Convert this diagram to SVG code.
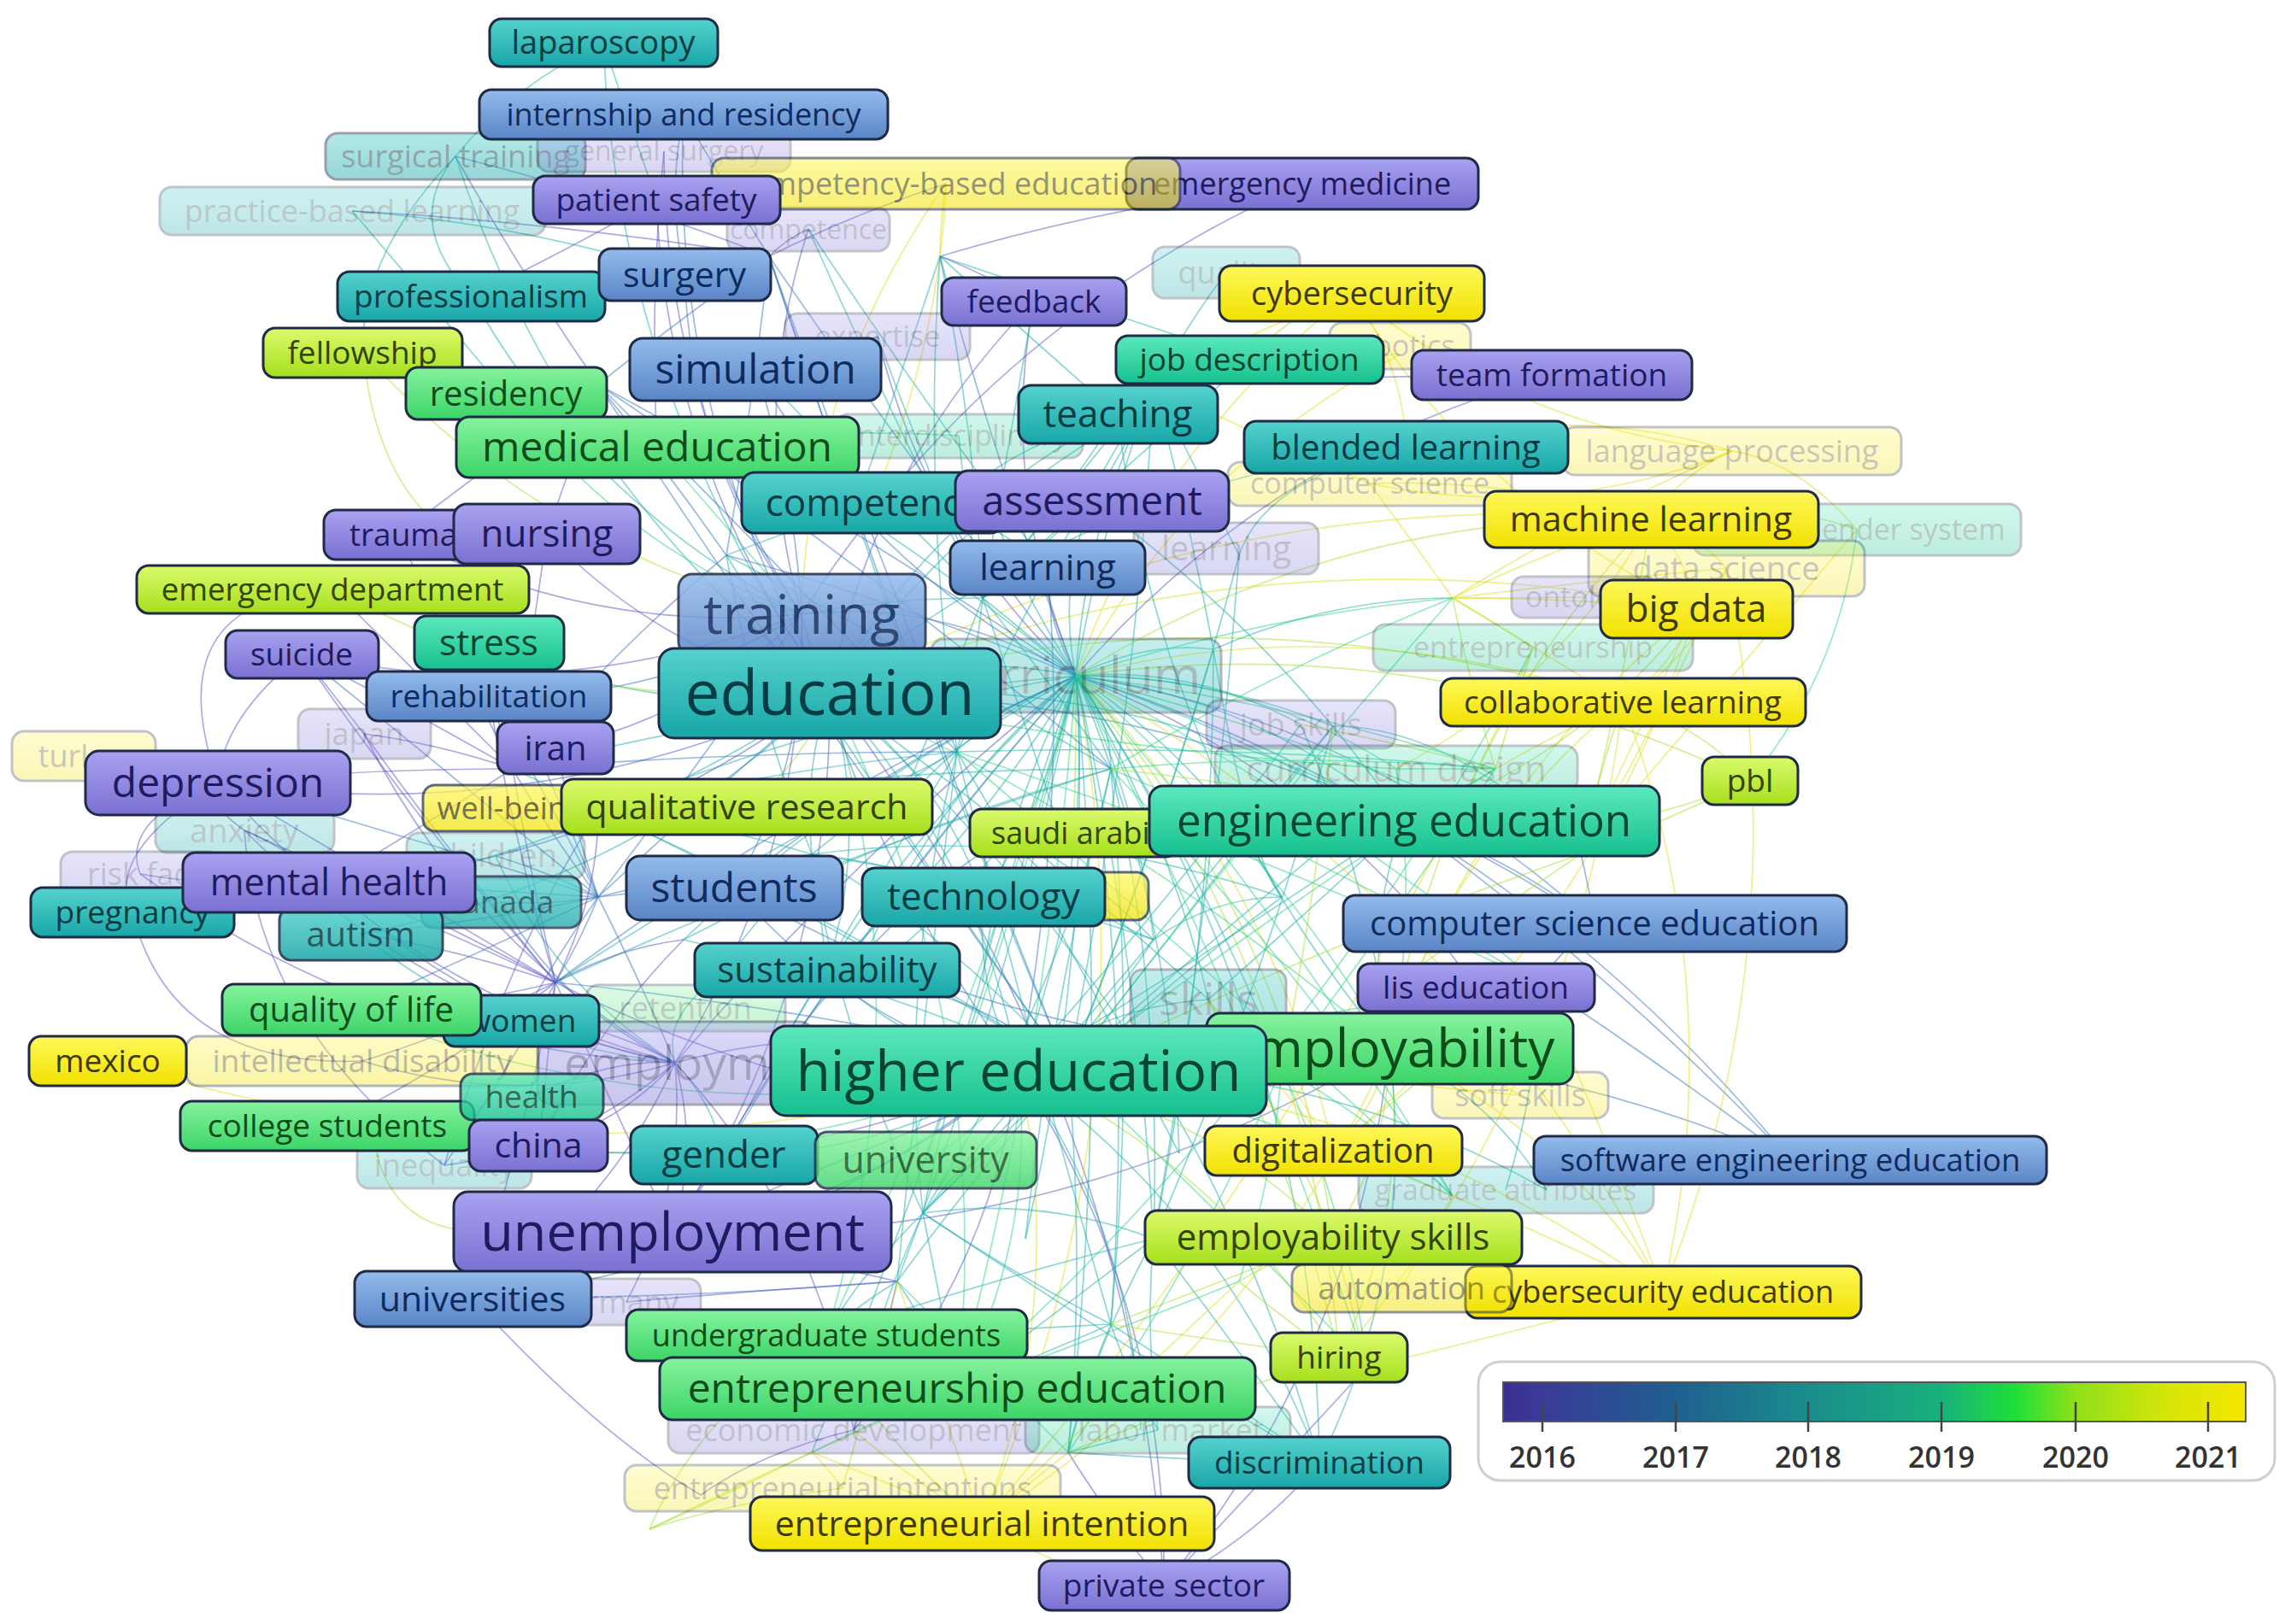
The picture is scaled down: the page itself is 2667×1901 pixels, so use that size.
<svg xmlns="http://www.w3.org/2000/svg" width="2667" height="1901" viewBox="0 0 2667 1901">
<defs>
<linearGradient id="gP" x1="0" y1="0" x2="0" y2="1"><stop offset="0" stop-color="#a9a2f0"/><stop offset="1" stop-color="#7a70d2"/></linearGradient>
<linearGradient id="gB" x1="0" y1="0" x2="0" y2="1"><stop offset="0" stop-color="#93bbec"/><stop offset="1" stop-color="#5a85c6"/></linearGradient>
<linearGradient id="gT" x1="0" y1="0" x2="0" y2="1"><stop offset="0" stop-color="#55d2ce"/><stop offset="1" stop-color="#18a6a7"/></linearGradient>
<linearGradient id="gTG" x1="0" y1="0" x2="0" y2="1"><stop offset="0" stop-color="#5ce8be"/><stop offset="1" stop-color="#16c08e"/></linearGradient>
<linearGradient id="gG" x1="0" y1="0" x2="0" y2="1"><stop offset="0" stop-color="#86f39e"/><stop offset="1" stop-color="#3cd468"/></linearGradient>
<linearGradient id="gYG" x1="0" y1="0" x2="0" y2="1"><stop offset="0" stop-color="#dcfa6c"/><stop offset="1" stop-color="#a5df1c"/></linearGradient>
<linearGradient id="gY" x1="0" y1="0" x2="0" y2="1"><stop offset="0" stop-color="#fff85a"/><stop offset="1" stop-color="#f1e100"/></linearGradient>
<linearGradient id="gLeg" x1="0" y1="0" x2="1" y2="0">
<stop offset="0" stop-color="#3b2f93"/><stop offset="0.05" stop-color="#3a3a98"/><stop offset="0.23" stop-color="#1f5f90"/><stop offset="0.41" stop-color="#1a8d8c"/><stop offset="0.59" stop-color="#18b07c"/><stop offset="0.69" stop-color="#1de038"/><stop offset="0.77" stop-color="#8fe01a"/><stop offset="0.9" stop-color="#d8e608"/><stop offset="1" stop-color="#f5e600"/>
</linearGradient>
</defs>
<style>
text{font-family:"Open Sans","Noto Sans","DejaVu Sans",sans-serif;text-anchor:middle}
#faded rect,#nodes rect{stroke:#1e2a46;stroke-width:3}
.P rect{fill:url(#gP)} .P text{fill:#1e1b5e}
.B rect{fill:url(#gB)} .B text{fill:#0f2a5c}
.T rect{fill:url(#gT)} .T text{fill:#073c44}
.TG rect{fill:url(#gTG)} .TG text{fill:#06452f}
.G rect{fill:url(#gG)} .G text{fill:#0d4d1a}
.YG rect{fill:url(#gYG)} .YG text{fill:#334400}
.Y rect{fill:url(#gY)} .Y text{fill:#3d3a00}
#faded g{opacity:.28}
#edges path{fill:none;stroke-width:1.7;stroke-opacity:.5}
.k1{stroke:#5c58c6}.k2{stroke:#3a78c0}.k3{stroke:#1fb0aa}.k4{stroke:#2ed388}.k5{stroke:#a6e22e}.k6{stroke:#e2de1c}
.lg{font-size:34px;font-weight:600;fill:#333}
</style>
<rect width="2667" height="1901" fill="#fff"/>
<g id="edges">
<path class="k3" d="M971 811Q724 470 706 50"/>
<path class="k2" d="M971 811Q783 498 800 134"/>
<path class="k3" d="M971 811Q658 563 533 183"/>
<path class="k1" d="M971 811Q782 552 768 234"/>
<path class="k1" d="M971 811Q1021 546 1210 353"/>
<path class="k3" d="M971 811Q1158 542 1462 421"/>
<path class="k3" d="M971 811Q1090 597 1308 485"/>
<path class="k3" d="M971 811Q1265 566 1646 523"/>
<path class="k5" d="M971 811Q1437 677 1899 822"/>
<path class="k3" d="M971 811Q1330 785 1643 961"/>
<path class="k2" d="M971 811Q1459 812 1866 1081"/>
<path class="k3" d="M971 811Q1147 999 1192 1253"/>
<path class="k1" d="M971 811Q974 1154 787 1442"/>
<path class="k1" d="M971 811Q629 970 255 916"/>
<path class="k1" d="M971 811Q711 1010 385 1033"/>
<path class="k3" d="M971 811Q762 841 572 752"/>
<path class="k1" d="M971 811Q777 768 640 625"/>
<path class="k5" d="M971 811Q662 837 390 690"/>
<path class="k5" d="M971 811Q942 892 874 944"/>
<path class="k3" d="M971 811Q1018 973 968 1135"/>
<path class="k3" d="M971 811Q1097 903 1151 1050"/>
<path class="k4" d="M971 811Q1167 1196 1120 1625"/>
<path class="k3" d="M971 811Q1392 1175 1544 1712"/>
<path class="k1" d="M971 811Q1323 1274 1362 1856"/>
<path class="k4" d="M971 811Q1082 1188 967 1563"/>
<path class="k3" d="M971 811Q738 1034 422 1093"/>
<path class="k3" d="M971 811Q602 1061 155 1068"/>
<path class="k6" d="M971 811Q1421 565 1932 608"/>
<path class="k6" d="M971 811Q1463 610 1985 713"/>
<path class="k6" d="M1259 791Q1353 519 1582 343"/>
<path class="k1" d="M1259 791Q1484 531 1816 439"/>
<path class="k5" d="M1259 791Q1568 598 1932 608"/>
<path class="k5" d="M1259 791Q1671 734 2048 914"/>
<path class="k1" d="M1259 791Q1548 903 1727 1156"/>
<path class="k2" d="M1259 791Q1762 949 2095 1358"/>
<path class="k6" d="M1259 791Q1492 1024 1560 1347"/>
<path class="k5" d="M1259 791Q1508 1074 1560 1448"/>
<path class="k5" d="M1259 791Q1533 1144 1567 1589"/>
<path class="k6" d="M1259 791Q1710 1048 1946 1512"/>
<path class="k1" d="M1259 791Q1168 565 1210 353"/>
<path class="k2" d="M1259 791Q1017 667 884 432"/>
<path class="k3" d="M1259 791Q1237 685 1278 586"/>
<path class="k2" d="M1259 791Q1223 722 1226 664"/>
<path class="k3" d="M1259 791Q1399 780 1522 848"/>
<path class="k4" d="M1259 791Q1462 789 1634 900"/>
<path class="k6" d="M1259 791Q1584 710 1899 822"/>
<path class="k3" d="M1259 791Q1476 818 1643 961"/>
<path class="k2" d="M1259 791Q1606 845 1866 1081"/>
<path class="k3" d="M1259 791Q1539 1208 1544 1712"/>
<path class="k6" d="M1259 791Q1353 1304 1149 1783"/>
<path class="k3" d="M1259 791Q1276 529 1435 319"/>
<path class="k1" d="M1259 791Q1083 627 1027 394"/>
<path class="k6" d="M1259 791Q1392 546 1638 415"/>
<path class="k4" d="M1192 1253Q1405 1175 1626 1227"/>
<path class="k1" d="M1192 1253Q1018 1408 787 1442"/>
<path class="k2" d="M1192 1253Q912 1482 553 1520"/>
<path class="k4" d="M1192 1253Q1212 1450 1120 1625"/>
<path class="k6" d="M1192 1253Q1250 1524 1149 1783"/>
<path class="k5" d="M1192 1253Q1430 1365 1567 1589"/>
<path class="k3" d="M1192 1253Q1437 1429 1544 1712"/>
<path class="k4" d="M1192 1253Q1153 1321 1083 1358"/>
<path class="k3" d="M1192 1253Q1034 1354 847 1352"/>
<path class="k1" d="M1192 1253Q924 1381 630 1341"/>
<path class="k4" d="M1192 1253Q797 1406 383 1318"/>
<path class="k4" d="M1192 1253Q790 1334 411 1182"/>
<path class="k6" d="M1192 1253Q657 1407 126 1242"/>
<path class="k1" d="M1192 1253Q1158 1492 999 1674"/>
<path class="k2" d="M1192 1253Q1659 1170 2095 1358"/>
<path class="k6" d="M1192 1253Q1608 1269 1946 1512"/>
<path class="k3" d="M1192 1253Q1291 1178 1414 1170"/>
<path class="k5" d="M1192 1253Q1405 1295 1560 1448"/>
<path class="k3" d="M1192 1253Q1062 1228 968 1135"/>
<path class="k2" d="M1192 1253Q993 1196 859 1039"/>
<path class="k3" d="M1192 1253Q1141 1157 1151 1050"/>
<path class="k3" d="M1192 1253Q1326 1442 1335 1674"/>
<path class="k3" d="M1192 1253Q1522 1230 1810 1393"/>
<path class="k1" d="M1192 1253Q1367 1529 1362 1856"/>
<path class="k6" d="M1626 1227Q1611 1297 1560 1347"/>
<path class="k5" d="M1626 1227Q1626 1347 1560 1448"/>
<path class="k1" d="M1626 1227Q1238 1460 787 1442"/>
<path class="k5" d="M1626 1227Q1650 1417 1567 1589"/>
<path class="k6" d="M1626 1227Q1829 1321 1946 1512"/>
<path class="k6" d="M1626 1227Q1701 983 1899 822"/>
<path class="k6" d="M1626 1227Q1728 916 1985 713"/>
<path class="k5" d="M1626 1227Q1686 871 1932 608"/>
<path class="k1" d="M1626 1227Q1690 1180 1727 1156"/>
<path class="k6" d="M1626 1227Q1710 1240 1779 1282"/>
<path class="k3" d="M1626 1227Q1743 1282 1810 1393"/>
<path class="k6" d="M1626 1227Q1470 1577 1149 1783"/>
<path class="k3" d="M1626 1227Q1658 1481 1544 1712"/>
<path class="k1" d="M1626 1227Q1588 1581 1362 1856"/>
<path class="k3" d="M1626 1227Q1594 1091 1643 961"/>
<path class="k2" d="M1626 1227Q1214 1248 859 1039"/>
<path class="k3" d="M1626 1227Q1356 904 1308 485"/>
<path class="k2" d="M938 719Q809 541 801 321"/>
<path class="k3" d="M938 719Q689 591 552 347"/>
<path class="k4" d="M938 719Q726 641 592 460"/>
<path class="k5" d="M938 719Q635 643 425 413"/>
<path class="k1" d="M938 719Q688 743 466 626"/>
<path class="k1" d="M938 719Q652 830 353 766"/>
<path class="k2" d="M938 719Q769 822 572 815"/>
<path class="k1" d="M938 719Q817 840 650 875"/>
<path class="k1" d="M938 719Q1155 379 1524 215"/>
<path class="k6" d="M938 719Q946 442 1107 215"/>
<path class="k2" d="M938 719Q930 570 884 432"/>
<path class="k4" d="M938 719Q870 640 769 523"/>
<path class="k2" d="M938 719Q946 891 859 1039"/>
<path class="k1" d="M938 719Q943 1003 790 1244"/>
<path class="k1" d="M938 719Q776 472 777 177"/>
<path class="k1" d="M938 719Q874 492 946 268"/>
<path class="k1" d="M790 1244Q693 1192 610 1195"/>
<path class="k1" d="M790 1244Q712 1239 622 1284"/>
<path class="k1" d="M790 1244Q725 1316 630 1341"/>
<path class="k1" d="M790 1244Q607 1298 424 1242"/>
<path class="k1" d="M790 1244Q818 1343 787 1442"/>
<path class="k3" d="M790 1244Q780 1210 802 1180"/>
<path class="k3" d="M790 1244Q834 1290 847 1352"/>
<path class="k1" d="M790 1244Q803 1393 733 1524"/>
<path class="k1" d="M790 1244Q673 1345 520 1364"/>
<path class="k1" d="M790 1244Q959 1428 999 1674"/>
<path class="k1" d="M790 1244Q473 1160 255 916"/>
<path class="k1" d="M790 1244Q555 1199 385 1033"/>
<path class="k1" d="M790 1244Q497 1184 286 972"/>
<path class="k2" d="M790 1244Q660 1181 586 1056"/>
<path class="k3" d="M790 1244Q649 1155 580 1002"/>
<path class="k1" d="M790 1244Q444 1227 164 1023"/>
<path class="k1" d="M790 1244Q550 1106 426 859"/>
<path class="k3" d="M790 1244Q583 1223 422 1093"/>
<path class="k1" d="M790 1244Q712 1418 553 1520"/>
<path class="k1" d="M790 1244Q992 1188 1192 1253"/>
<path class="k6" d="M1932 608Q1974 652 1985 713"/>
<path class="k6" d="M1932 608Q1985 623 2020 665"/>
<path class="k6" d="M1932 608Q1968 554 2027 528"/>
<path class="k5" d="M1932 608Q2054 578 2173 620"/>
<path class="k6" d="M1985 713Q1958 780 1899 822"/>
<path class="k6" d="M1985 713Q1728 588 1582 343"/>
<path class="k6" d="M2027 528Q1821 611 1603 566"/>
<path class="k5" d="M1582 343Q1510 365 1462 421"/>
<path class="k6" d="M1582 343Q1641 423 1646 523"/>
<path class="k5" d="M2048 914Q1987 848 1899 822"/>
<path class="k5" d="M2048 914Q1852 998 1643 961"/>
<path class="k6" d="M2020 665Q2110 1099 1946 1512"/>
<path class="k6" d="M1985 713Q1867 1094 1560 1347"/>
<path class="k4" d="M2173 620Q2154 786 2048 914"/>
<path class="k6" d="M2027 528Q1840 470 1646 523"/>
<path class="k6" d="M2027 528Q1776 502 1582 343"/>
<path class="k6" d="M1899 822Q2026 1160 1946 1512"/>
<path class="k6" d="M2020 665Q1995 760 1899 822"/>
<path class="k6" d="M1932 608Q1827 799 1634 900"/>
<path class="k6" d="M1603 566Q1770 560 1932 608"/>
<path class="k5" d="M1985 713Q1851 888 1643 961"/>
<path class="k6" d="M2027 528Q2105 540 2173 620"/>
<path class="k6" d="M1899 822Q1848 1255 1567 1589"/>
<path class="k5" d="M440 1347Q460 1430 540 1440"/>
<path class="k5" d="M760 1790Q820 1650 967 1563"/>
<path class="k5" d="M760 1790Q900 1720 1120 1625"/>
<path class="k5" d="M760 1790Q850 1760 986 1742"/>
<path class="k1" d="M553 1520Q700 1680 820 1750"/>
<path class="k1" d="M820 1750Q890 1700 999 1674"/>
<path class="k6" d="M1149 1783Q1050 1720 999 1674"/>
<path class="k5" d="M1149 1783Q1020 1680 967 1563"/>
<path class="k1" d="M1362 1856Q1470 1800 1544 1712"/>
<path class="k6" d="M1362 1856Q1260 1850 1149 1783"/>
<path class="k5" d="M425 413Q440 560 520 620"/>
<path class="k3" d="M533 183Q470 260 552 347"/>
<path class="k3" d="M412 247Q600 260 801 321"/>
<path class="k3" d="M706 50Q600 100 533 183"/>
<path class="k3" d="M706 50Q740 150 768 234"/>
<path class="k2" d="M800 134Q780 230 801 321"/>
<path class="k3" d="M412 247Q500 350 592 460"/>
<path class="k3" d="M533 183Q420 300 425 413"/>
<path class="k1" d="M777 177Q760 350 769 523"/>
<path class="k1" d="M768 234Q650 300 552 347"/>
<path class="k2" d="M1027 394Q950 420 884 432"/>
<path class="k3" d="M946 268Q1080 470 1226 664"/>
<path class="k4" d="M1122 510Q950 500 769 523"/>
<path class="k6" d="M1107 215Q1100 400 1021 588"/>
<path class="k3" d="M971 811Q1110 760 1259 791"/>
<path class="k4" d="M971 811Q1310 960 1626 1227"/>
<path class="k2" d="M938 719Q1100 700 1259 791"/>
<path class="k2" d="M938 719Q1010 1000 1192 1253"/>
<path class="k3" d="M1259 791Q1280 1020 1192 1253"/>
<path class="k4" d="M1259 791Q1480 980 1626 1227"/>
<path class="k3" d="M1259 791Q1370 980 1414 1170"/>
<path class="k3" d="M971 811Q1230 1000 1414 1170"/>
<path class="k1" d="M1259 791Q1000 1080 787 1442"/>
<path class="k2" d="M1259 791Q1040 890 859 1039"/>
<path class="k3" d="M1259 791Q1230 930 1151 1050"/>
<path class="k3" d="M1259 791Q1140 990 968 1135"/>
<path class="k4" d="M1259 791Q1230 1200 1120 1625"/>
<path class="k4" d="M1259 791Q1150 1170 967 1563"/>
<path class="k1" d="M1259 791Q1000 1000 790 1244"/>
<path class="k3" d="M1259 791Q1000 1080 847 1352"/>
<path class="k4" d="M1259 791Q1190 1080 1083 1358"/>
<path class="k5" d="M1259 791Q1260 880 1256 975"/>
<path class="k3" d="M1278 586Q1500 750 1643 961"/>
<path class="k2" d="M1226 664Q1250 950 1192 1253"/>
<path class="k5" d="M1414 1170Q1500 1300 1560 1448"/>
<path class="k3" d="M1414 1170Q1540 1060 1643 961"/>
<path class="k6" d="M1414 1170Q1480 1250 1560 1347"/>
<path class="k5" d="M1414 1170Q1520 1380 1567 1589"/>
<path class="k3" d="M1643 961Q1440 1100 1192 1253"/>
<path class="k2" d="M1643 961Q1760 1000 1866 1081"/>
<path class="k2" d="M1643 961Q1900 1150 2095 1358"/>
<path class="k3" d="M1522 848Q1600 1020 1626 1227"/>
<path class="k3" d="M1522 848Q1380 1040 1192 1253"/>
<path class="k4" d="M1634 900Q1660 1070 1626 1227"/>
<path class="k4" d="M1634 900Q1300 880 971 811"/>
<path class="k4" d="M1794 758Q1540 1250 1120 1625"/>
<path class="k6" d="M1794 758Q1560 1300 1149 1783"/>
<g class="k3">
<path d="M1259 791Q1300 840 1300 900"/><path d="M1259 791Q1340 750 1420 760"/><path d="M1259 791Q1420 900 1500 1050"/><path d="M1259 791Q1330 930 1350 1100"/>
<path d="M1259 791Q1410 790 1560 850"/><path d="M1259 791Q1130 850 1050 950"/><path d="M1259 791Q1080 940 1000 1150"/><path d="M1259 791Q1170 960 1150 1150"/>
<path d="M1259 791Q1370 1050 1380 1350"/><path d="M1259 791Q1280 1100 1200 1450"/><path d="M1259 791Q1330 1150 1300 1550"/><path d="M1259 791Q1190 1130 1050 1500"/>
<path d="M1259 791Q1040 990 900 1250"/><path d="M1259 791Q1000 910 800 1100"/><path d="M1259 791Q970 840 700 950"/><path d="M1259 791Q1110 670 1000 600"/>
<path d="M1259 791Q1180 670 1150 560"/><path d="M1259 791Q1300 1250 1250 1700"/><path d="M1259 791Q1140 1240 950 1700"/><path d="M1259 791Q930 820 600 900"/>
<path d="M1259 791Q1290 610 1350 450"/><path d="M1259 791Q1400 1000 1500 1250"/><path d="M1259 791Q1440 850 1600 950"/>
<path d="M1250 1250Q1080 1230 900 1250"/><path d="M1250 1250Q1020 1150 800 1100"/><path d="M1250 1250Q960 1060 700 950"/><path d="M1250 1250Q930 1050 600 900"/>
<path d="M1250 1250Q1130 1390 1050 1500"/><path d="M1250 1250Q1270 1480 1250 1700"/><path d="M1250 1250Q1370 950 1450 650"/><path d="M1250 1250Q1350 1000 1420 760"/>
<path d="M1250 1250Q1420 1030 1560 850"/><path d="M1250 1250Q1030 940 850 650"/><path d="M1250 1250Q1110 920 1000 600"/><path d="M1250 1250Q1330 840 1350 450"/>
<path d="M1250 1250Q1440 1080 1600 950"/><path d="M1300 900Q1000 900 700 950"/><path d="M1300 900Q980 1000 650 1150"/><path d="M1300 900Q1050 970 800 1100"/>
<path d="M1300 900Q1060 760 850 650"/><path d="M1300 900Q1330 1230 1300 1550"/><path d="M1300 900Q1230 1180 1200 1450"/><path d="M1120 880Q910 900 700 950"/>
<path d="M1120 880Q880 1000 650 1150"/><path d="M1120 880Q1080 580 1100 300"/><path d="M1120 880Q1230 650 1350 450"/><path d="M1120 880Q1250 1100 1380 1350"/>
<path d="M1120 880Q1200 1200 1300 1550"/><path d="M1120 880Q1080 1190 1050 1500"/><path d="M1120 880Q1000 1070 900 1250"/><path d="M1120 880Q1440 870 1750 900"/>
<path d="M1350 450Q1320 520 1278 586"/><path d="M1350 450Q1400 430 1462 421"/><path d="M1350 450Q1400 550 1450 650"/><path d="M1350 450Q1390 600 1420 760"/>
<path d="M1100 300Q1200 390 1308 485"/><path d="M1100 300Q1280 360 1462 421"/><path d="M1100 300Q1050 450 1000 600"/><path d="M1300 1550Q1210 1590 1120 1625"/>
<path d="M1300 1550Q1420 1630 1544 1712"/><path d="M1300 1550Q1320 1610 1355 1674"/><path d="M1300 1550Q1130 1560 967 1563"/><path d="M1300 1550Q1270 1620 1250 1700"/>
<path d="M1250 1700Q1400 1710 1544 1712"/><path d="M1250 1700Q1290 1690 1355 1674"/><path d="M1050 1500Q1000 1530 967 1563"/><path d="M1050 1500Q1090 1560 1120 1625"/>
<path d="M1850 1000Q1750 980 1643 961"/><path d="M1800 1150Q1800 1270 1762 1393"/><path d="M1500 1050Q1460 1000 1420 760"/><path d="M1500 1050Q1350 1000 1180 980"/>
<path d="M1350 1100Q1250 1000 1180 980"/><path d="M1350 1100Q1420 1050 1500 1050"/><path d="M1180 980Q1100 1080 1000 1150"/><path d="M1180 980Q1250 1060 1350 1100"/>
<path d="M1420 760Q1560 700 1700 700"/><path d="M1560 850Q1700 850 1850 1000"/><path d="M1450 650Q1480 560 1646 523"/><path d="M1000 600Q1100 560 1226 664"/>
<path d="M850 650Q980 600 1000 600"/><path d="M1150 560Q1200 520 1308 485"/>
<path d="M1080 1420Q1150 1100 1259 791"/><path d="M1080 1420Q1250 1150 1300 900"/><path d="M1080 1420Q1050 1150 1120 880"/><path d="M1080 1420Q980 1200 950 1000"/>
<path d="M1080 1420Q1100 1520 1120 1625"/><path d="M1080 1420Q1000 1500 967 1563"/><path d="M1080 1420Q1200 1500 1300 1550"/><path d="M1080 1420Q1020 1550 999 1674"/>
<path d="M1080 1420Q1220 1400 1350 1450"/><path d="M1080 1420Q1350 1600 1544 1712"/><path d="M1080 1420Q1250 1250 1350 1100"/><path d="M1080 1420Q1300 1200 1500 1050"/>
<path d="M1080 1420Q1350 1100 1560 850"/><path d="M1350 1450Q1330 1100 1259 791"/><path d="M1350 1450Q1360 1150 1300 900"/><path d="M1350 1450Q1420 1100 1420 760"/>
<path d="M1350 1450Q1480 1150 1560 850"/><path d="M1350 1450Q1420 1050 1450 650"/><path d="M1350 1450Q1280 1580 1250 1700"/><path d="M1350 1450Q1450 1580 1544 1712"/>
<path d="M1350 1450Q1340 1560 1355 1674"/><path d="M1350 1450Q1150 1500 967 1563"/><path d="M1350 1450Q1230 1540 1120 1625"/>
<path d="M950 1000Q940 900 971 811"/><path d="M950 1000Q1100 880 1259 791"/><path d="M950 1000Q900 1020 859 1039"/><path d="M950 1000Q820 960 700 950"/>
<path d="M950 1000Q880 820 850 650"/><path d="M950 1000Q960 1070 968 1135"/><path d="M950 1000Q1050 1010 1151 1050"/><path d="M950 1000Q1120 1100 1250 1250"/>
<path d="M950 1000Q1150 1030 1350 1100"/><path d="M950 1000Q1100 980 1250 1000"/><path d="M950 1000Q870 1100 802 1180"/>
<path d="M1150 700Q1200 740 1259 791"/><path d="M1150 700Q1040 700 938 719"/><path d="M1150 700Q1220 640 1278 586"/><path d="M1150 700Q1190 680 1226 664"/>
<path d="M1150 700Q1240 590 1308 485"/><path d="M1150 700Q1300 560 1462 421"/><path d="M1150 700Q1180 520 1210 353"/><path d="M1150 700Q1080 540 1027 394"/>
<path d="M1150 700Q1040 480 946 268"/><path d="M1150 700Q1130 600 1122 510"/><path d="M1150 700Q1010 560 884 432"/><path d="M1150 700Q1140 500 1100 300"/>
<path d="M1150 700Q1250 570 1350 450"/><path d="M1150 700Q1230 800 1300 900"/><path d="M1150 700Q1140 790 1120 880"/><path d="M1150 700Q1200 850 1250 1000"/>
<path d="M1150 700Q1100 830 1050 950"/>
</g>
<g class="k2">
<path d="M1259 791Q1040 700 850 650"/><path d="M1259 791Q1050 520 900 300"/><path d="M1259 791Q1160 530 1100 300"/><path d="M1259 791Q960 590 700 450"/>
<path d="M1259 791Q930 940 650 1150"/><path d="M1250 1250Q950 1180 650 1150"/><path d="M1250 1250Q1050 760 900 300"/><path d="M1250 1250Q950 830 700 450"/>
<path d="M1300 900Q1000 650 700 450"/><path d="M1120 880Q900 650 700 450"/><path d="M1120 880Q1000 580 900 300"/><path d="M1120 880Q860 880 600 900"/>
<path d="M900 300Q850 220 800 134"/><path d="M900 300Q800 370 700 450"/><path d="M900 300Q880 480 850 650"/><path d="M900 300Q950 450 1000 600"/>
<path d="M700 450Q780 550 850 650"/><path d="M650 1150Q610 1340 553 1520"/><path d="M600 900Q720 760 850 650"/><path d="M1050 1500Q800 1520 553 1520"/>
<path d="M1800 1150Q1950 1250 2095 1358"/><path d="M1800 1150Q1830 1110 1866 1081"/><path d="M1850 1000Q1860 1040 1866 1081"/><path d="M1250 1250Q1130 1150 1000 1150"/>
<path d="M1180 980Q1050 1050 900 1250"/>
<path d="M700 1050Q780 1040 859 1039"/><path d="M700 1050Q540 1040 385 1033"/><path d="M700 1050Q560 1080 422 1093"/><path d="M700 1050Q640 1020 580 1002"/>
<path d="M700 1050Q640 1060 586 1056"/><path d="M700 1050Q670 960 650 875"/><path d="M700 1050Q640 930 572 815"/><path d="M700 1050Q840 920 971 811"/>
<path d="M700 1050Q830 880 938 719"/><path d="M700 1050Q680 1100 650 1150"/><path d="M700 1050Q550 1120 411 1182"/><path d="M700 1050Q650 1120 610 1195"/>
<path d="M700 1050Q750 1150 790 1244"/><path d="M700 1050Q820 1020 950 1000"/><path d="M700 1050Q640 970 600 900"/><path d="M700 1050Q640 900 572 752"/>
<path d="M700 1050Q520 900 353 766"/><path d="M700 1050Q480 980 255 916"/>
</g>
<g class="k1">
<path d="M650 1150Q620 1020 600 900"/><path d="M650 1150Q700 1050 700 950"/><path d="M650 1150Q770 1210 900 1250"/><path d="M650 1150Q720 1110 800 1100"/>
<path d="M650 1150Q430 1020 255 916"/><path d="M650 1150Q500 1080 385 1033"/><path d="M650 1150Q530 1110 422 1093"/><path d="M650 1150Q530 1180 411 1182"/>
<path d="M650 1150Q530 1210 424 1242"/><path d="M650 1150Q510 1260 383 1318"/><path d="M650 1150Q590 1260 520 1364"/><path d="M650 1150Q640 1250 630 1341"/>
<path d="M650 1150Q720 1300 787 1442"/><path d="M650 1150Q520 990 426 859"/><path d="M650 1150Q480 950 353 766"/><path d="M650 1150Q600 980 572 815"/>
<path d="M650 1150Q460 1050 286 972"/><path d="M600 900Q420 900 255 916"/><path d="M600 900Q460 820 353 766"/><path d="M600 900Q510 870 426 859"/>
<path d="M600 900Q590 860 572 815"/><path d="M600 900Q620 890 650 875"/><path d="M600 900Q490 970 385 1033"/><path d="M600 900Q530 760 466 626"/>
<path d="M600 900Q620 760 640 625"/><path d="M600 900Q490 790 390 690"/><path d="M900 300Q720 230 533 183"/><path d="M900 300Q650 260 412 247"/>
<path d="M900 300Q720 320 552 347"/><path d="M900 300Q1000 250 1107 215"/><path d="M900 300Q920 280 946 268"/><path d="M700 450Q580 540 466 626"/>
<path d="M700 450Q670 540 640 625"/><path d="M700 450Q610 320 533 183"/><path d="M1100 300Q1300 240 1524 215"/><path d="M1100 300Q1150 320 1210 353"/>
<path d="M1350 450Q1580 440 1816 439"/><path d="M1800 1150Q1760 1150 1727 1156"/><path d="M1050 1500Q920 1470 787 1442"/><path d="M1050 1500Q890 1510 733 1524"/>
<path d="M1050 1500Q1030 1590 999 1674"/><path d="M1600 1600Q1480 1730 1362 1856"/><path d="M1250 1700Q1300 1780 1362 1856"/><path d="M900 1250Q850 1350 787 1442"/>
<path d="M800 1100Q700 1200 630 1341"/><path d="M1250 1250Q1000 1350 787 1442"/><path d="M700 950Q600 1100 520 1364"/>
<path d="M255 916Q120 1000 155 1068"/><path d="M255 916Q140 960 164 1023"/><path d="M385 1033Q270 1070 155 1068"/><path d="M385 1033Q330 990 286 972"/>
<path d="M286 972Q240 940 255 916"/><path d="M353 766Q260 840 255 916"/><path d="M426 859Q380 800 353 766"/><path d="M164 1023Q260 1040 385 1033"/>
<path d="M255 916Q180 700 390 690"/><path d="M155 1068Q200 1250 424 1242"/><path d="M286 972Q300 1200 520 1364"/>
</g>
<g class="k4">
<path d="M1259 791Q1480 720 1700 700"/><path d="M1259 791Q1500 820 1750 900"/><path d="M1259 791Q1550 940 1800 1150"/><path d="M1259 791Q1500 1060 1700 1400"/>
<path d="M1259 791Q1460 1180 1600 1600"/><path d="M1259 791Q1560 870 1850 1000"/><path d="M1250 1250Q1450 1440 1600 1600"/><path d="M1250 1250Q1480 1300 1700 1400"/>
<path d="M1250 1250Q1540 1180 1800 1150"/><path d="M1250 1250Q1500 1060 1750 900"/><path d="M1250 1250Q1480 950 1700 700"/><path d="M1300 900Q1500 780 1700 700"/>
<path d="M1300 900Q1520 880 1750 900"/><path d="M1300 900Q1560 1010 1800 1150"/><path d="M1300 900Q1520 1130 1700 1400"/><path d="M1120 880Q1410 1130 1700 1400"/>
<path d="M1120 880Q1460 990 1800 1150"/><path d="M1500 1250Q1640 1060 1750 900"/><path d="M1500 1250Q1620 1320 1700 1400"/><path d="M1500 1250Q1580 1430 1600 1600"/>
<path d="M1500 1250Q1400 1480 1250 1700"/><path d="M1500 1250Q1490 1380 1450 1500"/><path d="M1750 900Q1690 900 1634 900"/><path d="M1750 900Q1700 930 1643 961"/>
<path d="M1050 1500Q1150 1600 1250 1700"/><path d="M950 1700Q1030 1660 1120 1625"/><path d="M1450 1500Q1300 1560 1120 1625"/>
</g>
<g class="k5">
<path d="M1500 1250Q1700 1100 1850 1000"/><path d="M1500 1250Q1660 1180 1800 1150"/><path d="M1500 1250Q1540 1050 1560 850"/><path d="M1300 900Q1580 930 1850 1000"/>
<path d="M1250 1250Q1560 1100 1850 1000"/><path d="M1850 1000Q1950 960 2048 914"/><path d="M1850 1000Q1870 910 1899 822"/><path d="M1850 1000Q1900 800 1932 608"/>
<path d="M1700 700Q1720 800 1750 900"/><path d="M1700 700Q1750 730 1794 758"/><path d="M1750 900Q1770 830 1794 758"/><path d="M1750 900Q1640 870 1522 848"/>
<path d="M1800 1150Q1680 1250 1560 1347"/><path d="M1600 1600Q1580 1520 1560 1448"/><path d="M1600 1600Q1590 1590 1567 1589"/><path d="M1450 1500Q1500 1470 1560 1448"/>
<path d="M1450 1500Q1510 1550 1567 1589"/><path d="M1300 1550Q1430 1570 1567 1589"/><path d="M1300 1550Q1430 1500 1560 1448"/><path d="M950 1700Q850 1750 760 1790"/>
<path d="M1250 1700Q1400 1640 1567 1589"/><path d="M1050 1500Q1020 1620 986 1742"/>
</g>
<g class="k6">
<path d="M1700 700Q1820 640 1932 608"/><path d="M1700 700Q1840 700 1985 713"/><path d="M1700 700Q1860 600 2027 528"/><path d="M1700 700Q1650 630 1603 566"/>
<path d="M1700 700Q1800 760 1899 822"/><path d="M1700 700Q1860 680 2020 665"/><path d="M1700 700Q1780 700 1854 699"/><path d="M1850 1000Q1920 850 1985 713"/>
<path d="M1850 1000Q1950 830 2020 665"/><path d="M1850 1000Q2020 800 2173 620"/><path d="M1750 900Q1820 860 1899 822"/><path d="M1800 1150Q1880 1330 1946 1512"/>
<path d="M1700 1400Q1820 1450 1946 1512"/><path d="M1700 1400Q1630 1370 1560 1347"/><path d="M1700 1400Q1670 1450 1640 1508"/><path d="M1600 1600Q1770 1560 1946 1512"/>
<path d="M950 1700Q1050 1740 1149 1783"/><path d="M950 1700Q970 1720 986 1742"/><path d="M1250 1700Q1200 1740 1149 1783"/><path d="M1050 1500Q1100 1640 1149 1783"/>
<path d="M1450 1500Q1300 1640 1149 1783"/><path d="M1350 450Q1460 390 1582 343"/><path d="M1350 450Q1500 420 1638 415"/><path d="M1350 450Q1470 510 1603 566"/>
<path d="M1100 300Q1100 260 1107 215"/><path d="M1500 1250Q1640 1270 1779 1282"/><path d="M1500 1250Q1530 1300 1560 1347"/>
</g>
</g>
<g id="faded">
<g id="n-surgical-training" class="T" style="opacity:.45"><rect x="381" y="156" width="304" height="54" rx="14"/><text x="533" y="196" font-size="36">surgical training</text></g>
<g id="n-general-surgery" class="P"><rect x="629" y="153" width="296" height="48" rx="14"/><text x="777" y="188" font-size="32">general surgery</text></g>
<g id="n-practice-based-learning" class="T"><rect x="187" y="219" width="451" height="56" rx="14"/><text x="412" y="260" font-size="36">practice-based learning</text></g>
<g id="n-competence" class="P"><rect x="851" y="243" width="190" height="51" rx="14"/><text x="946" y="280" font-size="32">competence</text></g>
<g id="n-quality" class="T"><rect x="1349" y="289" width="172" height="60" rx="14"/><text x="1435" y="332" font-size="36">quality</text></g>
<g id="n-expertise" class="P"><rect x="919" y="367" width="216" height="54" rx="14"/><text x="1027" y="406" font-size="34">expertise</text></g>
<g id="n-robotics" class="Y"><rect x="1556" y="378" width="165" height="54" rx="14"/><text x="1638" y="417" font-size="34">robotics</text></g>
<g id="n-interdisciplinary" class="TG"><rect x="978" y="485" width="289" height="51" rx="14"/><text x="1122" y="522" font-size="34">interdisciplinary</text></g>
<g id="n-language-processing" class="Y"><rect x="1829" y="500" width="396" height="56" rx="14"/><text x="2027" y="541" font-size="36">language processing</text></g>
<g id="n-computer-science" class="Y"><rect x="1437" y="541" width="332" height="51" rx="14"/><text x="1603" y="578" font-size="34">computer science</text></g>
<g id="n-recommender-system" class="TG"><rect x="1982" y="590" width="383" height="60" rx="14"/><text x="2173" y="632" font-size="34">recommender system</text></g>
<g id="n-e-learning" class="P"><rect x="1327" y="612" width="216" height="60" rx="14"/><text x="1435" y="656" font-size="40">learning</text></g>
<g id="n-data-science" class="Y"><rect x="1859" y="633" width="323" height="65" rx="14"/><text x="2020" y="679" font-size="38">data science</text></g>
<g id="n-ontology" class="P"><rect x="1769" y="675" width="170" height="48" rx="14"/><text x="1854" y="711" font-size="34">ontology</text></g>
<g id="n-curriculum" class="T" style="opacity:.35"><rect x="1089" y="748" width="340" height="86" rx="16"/><text x="1254" y="812" font-size="60">curriculum</text></g>
<g id="n-entrepreneurship" class="TG"><rect x="1607" y="731" width="374" height="54" rx="14"/><text x="1794" y="770" font-size="34">entrepreneurship</text></g>
<g id="n-job-skills" class="P"><rect x="1412" y="820" width="221" height="56" rx="14"/><text x="1522" y="861" font-size="36">job skills</text></g>
<g id="n-japan" class="P"><rect x="349" y="830" width="155" height="58" rx="14"/><text x="426" y="872" font-size="36">japan</text></g>
<g id="n-turkey" class="Y"><rect x="14" y="856" width="168" height="58" rx="14"/><text x="98" y="898" font-size="36">turkey</text></g>
<g id="n-curriculum-design" class="TG"><rect x="1422" y="873" width="424" height="54" rx="14"/><text x="1634" y="915" font-size="42">curriculum design</text></g>
<g id="n-anxiety" class="T"><rect x="182" y="947" width="209" height="51" rx="14"/><text x="286" y="986" font-size="38">anxiety</text></g>
<g id="n-children" class="T"><rect x="476" y="975" width="208" height="54" rx="14"/><text x="580" y="1015" font-size="38">children</text></g>
<g id="n-risk-factors" class="P"><rect x="71" y="997" width="187" height="53" rx="14"/><text x="102" y="1036" font-size="36" style="text-anchor:start">risk factors</text></g>
<g id="n-retention" class="G"><rect x="686" y="1153" width="233" height="54" rx="14"/><text x="802" y="1193" font-size="36">retention</text></g>
<g id="n-skills" class="T" style="opacity:.35"><rect x="1323" y="1135" width="182" height="70" rx="14"/><text x="1414" y="1188" font-size="52">skills</text></g>
<g id="n-employment" class="P" style="opacity:.4"><rect x="629" y="1196" width="323" height="97" rx="16"/><text x="660" y="1264" font-size="55" style="text-anchor:start">employment</text></g>
<g id="n-intellectual-disability" class="Y" style="opacity:.35"><rect x="218" y="1213" width="412" height="58" rx="14"/><text x="424" y="1255" font-size="37">intellectual disability</text></g>
<g id="n-soft-skills" class="Y"><rect x="1676" y="1255" width="206" height="54" rx="14"/><text x="1779" y="1295" font-size="36">soft skills</text></g>
<g id="n-inequality" class="T"><rect x="418" y="1337" width="204" height="54" rx="14"/><text x="520" y="1377" font-size="36">inequality</text></g>
<g id="n-graduate-attributes" class="T"><rect x="1590" y="1366" width="345" height="54" rx="14"/><text x="1762" y="1405" font-size="34">graduate attributes</text></g>
<g id="n-germany" class="P"><rect x="620" y="1497" width="200" height="54" rx="14"/><text x="646" y="1537" font-size="36" style="text-anchor:start">germany</text></g>
<g id="n-economic-development" class="P"><rect x="782" y="1647" width="434" height="54" rx="14"/><text x="999" y="1687" font-size="36">economic development</text></g>
<g id="n-labor-market" class="TG"><rect x="1200" y="1647" width="310" height="54" rx="14"/><text x="1370" y="1687" font-size="36">labor market</text></g>
<g id="n-entrepreneurial-intentions" class="Y"><rect x="731" y="1715" width="510" height="54" rx="14"/><text x="986" y="1755" font-size="36">entrepreneurial intentions</text></g>
</g>
<g id="nodes">
<g id="n-laparoscopy" class="T"><rect x="573" y="22" width="267" height="56" rx="14"/><text x="706" y="63" font-size="38">laparoscopy</text></g>
<g id="n-internship-and-residency" class="B"><rect x="561" y="105" width="478" height="58" rx="14"/><text x="800" y="147" font-size="36">internship and residency</text></g>
<g id="n-emergency-medicine" class="P"><rect x="1318" y="185" width="412" height="60" rx="14"/><text x="1524" y="228" font-size="36">emergency medicine</text></g>
<g id="n-competency-based-education" class="Y" style="opacity:.55"><rect x="833" y="185" width="548" height="60" rx="14"/><text x="1107" y="228" font-size="36">competency-based education</text></g>
<g id="n-patient-safety" class="P"><rect x="624" y="206" width="289" height="56" rx="14"/><text x="768" y="247" font-size="37">patient safety</text></g>
<g id="n-professionalism" class="T"><rect x="395" y="318" width="313" height="58" rx="14"/><text x="551" y="360" font-size="37">professionalism</text></g>
<g id="n-surgery" class="B"><rect x="701" y="291" width="201" height="61" rx="14"/><text x="801" y="336" font-size="41">surgery</text></g>
<g id="n-feedback" class="P"><rect x="1102" y="325" width="216" height="56" rx="14"/><text x="1210" y="366" font-size="37">feedback</text></g>
<g id="n-cybersecurity" class="Y"><rect x="1427" y="311" width="310" height="65" rx="14"/><text x="1582" y="357" font-size="38">cybersecurity</text></g>
<g id="n-fellowship" class="YG"><rect x="308" y="384" width="233" height="58" rx="14"/><text x="424" y="426" font-size="37">fellowship</text></g>
<g id="n-simulation" class="B"><rect x="737" y="396" width="294" height="73" rx="15"/><text x="884" y="449" font-size="48">simulation</text></g>
<g id="n-job-description" class="TG"><rect x="1306" y="393" width="313" height="56" rx="14"/><text x="1462" y="434" font-size="37">job description</text></g>
<g id="n-team-formation" class="P"><rect x="1652" y="410" width="328" height="58" rx="14"/><text x="1816" y="452" font-size="37">team formation</text></g>
<g id="n-residency" class="G"><rect x="475" y="430" width="235" height="61" rx="14"/><text x="592" y="475" font-size="40">residency</text></g>
<g id="n-teaching" class="T"><rect x="1192" y="451" width="233" height="68" rx="15"/><text x="1308" y="500" font-size="44">teaching</text></g>
<g id="n-medical-education" class="G"><rect x="534" y="488" width="471" height="71" rx="15"/><text x="769" y="540" font-size="48">medical education</text></g>
<g id="n-blended-learning" class="T"><rect x="1456" y="493" width="379" height="61" rx="14"/><text x="1645" y="538" font-size="40">blended learning</text></g>
<g id="n-competency" class="T"><rect x="868" y="553" width="306" height="71" rx="15"/><text x="1021" y="604" font-size="44">competency</text></g>
<g id="n-assessment" class="P"><rect x="1118" y="551" width="320" height="71" rx="15"/><text x="1278" y="603" font-size="47">assessment</text></g>
<g id="n-machine-learning" class="Y"><rect x="1737" y="575" width="391" height="66" rx="14"/><text x="1932" y="622" font-size="41">machine learning</text></g>
<g id="n-trauma" class="P"><rect x="379" y="597" width="174" height="58" rx="14"/><text x="472" y="639" font-size="37">trauma</text></g>
<g id="n-nursing" class="P"><rect x="531" y="590" width="218" height="70" rx="15"/><text x="640" y="640" font-size="44">nursing</text></g>
<g id="n-learning" class="B"><rect x="1112" y="633" width="228" height="63" rx="14"/><text x="1226" y="679" font-size="42">learning</text></g>
<g id="n-emergency-department" class="YG"><rect x="160" y="662" width="459" height="56" rx="14"/><text x="389" y="703" font-size="36.5">emergency department</text></g>
<g id="n-big-data" class="Y"><rect x="1873" y="679" width="225" height="68" rx="15"/><text x="1985" y="728" font-size="44">big data</text></g>
<g id="n-training" class="B" style="opacity:.85"><rect x="794" y="672" width="289" height="95" rx="16"/><text x="938" y="742" font-size="64">training</text></g>
<g id="n-suicide" class="P"><rect x="264" y="738" width="179" height="56" rx="14"/><text x="353" y="779" font-size="37">suicide</text></g>
<g id="n-rehabilitation" class="B"><rect x="429" y="786" width="286" height="58" rx="14"/><text x="572" y="828" font-size="37">rehabilitation</text></g>
<g id="n-stress" class="TG"><rect x="485" y="721" width="175" height="63" rx="14"/><text x="572" y="767" font-size="42">stress</text></g>
<g id="n-education" class="T"><rect x="771" y="759" width="400" height="105" rx="18"/><text x="971" y="837" font-size="73">education</text></g>
<g id="n-collaborative-learning" class="Y"><rect x="1686" y="794" width="427" height="56" rx="14"/><text x="1899" y="835" font-size="37">collaborative learning</text></g>
<g id="n-iran" class="P"><rect x="582" y="845" width="136" height="61" rx="14"/><text x="650" y="890" font-size="40">iran</text></g>
<g id="n-depression" class="P"><rect x="100" y="879" width="310" height="75" rx="16"/><text x="255" y="933" font-size="48">depression</text></g>
<g id="n-pbl" class="YG"><rect x="1992" y="886" width="112" height="56" rx="14"/><text x="2048" y="927" font-size="37">pbl</text></g>
<g id="n-well-being" class="Y" style="opacity:.7"><rect x="495" y="919" width="204" height="54" rx="14"/><text x="597" y="959" font-size="36">well-being</text></g>
<g id="n-qualitative-research" class="YG"><rect x="657" y="912" width="434" height="65" rx="14"/><text x="874" y="959" font-size="41">qualitative research</text></g>
<g id="n-saudi-arabia" class="YG"><rect x="1135" y="947" width="243" height="56" rx="14"/><text x="1160" y="988" font-size="36" style="text-anchor:start">saudi arabia</text></g>
<g id="n-engineering-education" class="TG"><rect x="1345" y="920" width="597" height="82" rx="16"/><text x="1643" y="979" font-size="51">engineering education</text></g>
<g id="n-canada" class="T" style="opacity:.75"><rect x="493" y="1026" width="187" height="60" rx="14"/><text x="586" y="1069" font-size="37">canada</text></g>
<g id="n-pregnancy" class="T"><rect x="36" y="1039" width="238" height="58" rx="14"/><text x="155" y="1081" font-size="37">pregnancy</text></g>
<g id="n-autism" class="T" style="opacity:.85"><rect x="327" y="1063" width="191" height="61" rx="14"/><text x="422" y="1108" font-size="40">autism</text></g>
<g id="n-mental-health" class="P"><rect x="214" y="998" width="342" height="70" rx="15"/><text x="385" y="1048" font-size="43">mental health</text></g>
<g id="n-students" class="B"><rect x="733" y="1002" width="253" height="75" rx="16"/><text x="859" y="1056" font-size="48">students</text></g>
<g id="n-covid" class="Y" style="opacity:.7"><rect x="1259" y="1021" width="85" height="56" rx="14"/></g>
<g id="n-technology" class="T"><rect x="1009" y="1016" width="284" height="68" rx="15"/><text x="1151" y="1065" font-size="44">technology</text></g>
<g id="n-computer-science-education" class="B"><rect x="1572" y="1048" width="589" height="66" rx="14"/><text x="1866" y="1095" font-size="40">computer science education</text></g>
<g id="n-sustainability" class="T"><rect x="813" y="1104" width="310" height="63" rx="14"/><text x="968" y="1150" font-size="42">sustainability</text></g>
<g id="n-lis-education" class="P"><rect x="1589" y="1128" width="277" height="56" rx="14"/><text x="1727" y="1169" font-size="37">lis education</text></g>
<g id="n-women" class="T"><rect x="519" y="1165" width="182" height="60" rx="14"/><text x="610" y="1208" font-size="37">women</text></g>
<g id="n-quality-of-life" class="G"><rect x="260" y="1152" width="303" height="60" rx="14"/><text x="411" y="1196" font-size="40">quality of life</text></g>
<g id="n-employability" class="G"><rect x="1412" y="1186" width="429" height="83" rx="16"/><text x="1626" y="1249" font-size="62">employability</text></g>
<g id="n-higher-education" class="TG"><rect x="902" y="1201" width="580" height="105" rx="18"/><text x="1192" y="1277" font-size="66">higher education</text></g>
<g id="n-mexico" class="Y"><rect x="34" y="1213" width="184" height="58" rx="14"/><text x="126" y="1255" font-size="37">mexico</text></g>
<g id="n-college-students" class="G"><rect x="211" y="1289" width="344" height="58" rx="14"/><text x="383" y="1331" font-size="37">college students</text></g>
<g id="n-health" class="TG" style="opacity:.8"><rect x="539" y="1257" width="167" height="54" rx="14"/><text x="622" y="1297" font-size="37">health</text></g>
<g id="n-china" class="P"><rect x="549" y="1311" width="162" height="60" rx="14"/><text x="630" y="1355" font-size="41">china</text></g>
<g id="n-gender" class="T"><rect x="738" y="1318" width="219" height="68" rx="15"/><text x="847" y="1367" font-size="44">gender</text></g>
<g id="n-university" class="G" style="opacity:.8"><rect x="954" y="1325" width="259" height="66" rx="14"/><text x="1083" y="1373" font-size="43">university</text></g>
<g id="n-digitalization" class="Y"><rect x="1410" y="1318" width="301" height="58" rx="14"/><text x="1560" y="1361" font-size="40">digitalization</text></g>
<g id="n-software-engineering-education" class="B"><rect x="1795" y="1330" width="600" height="56" rx="14"/><text x="2095" y="1371" font-size="36.5">software engineering education</text></g>
<g id="n-unemployment" class="P"><rect x="531" y="1395" width="512" height="94" rx="17"/><text x="787" y="1464" font-size="63">unemployment</text></g>
<g id="n-cybersecurity-education" class="Y"><rect x="1715" y="1482" width="463" height="61" rx="14"/><text x="1946" y="1525" font-size="36">cybersecurity education</text></g>
<g id="n-automation" class="Y" style="opacity:.5"><rect x="1512" y="1480" width="257" height="56" rx="14"/><text x="1640" y="1521" font-size="36">automation</text></g>
<g id="n-employability-skills" class="YG"><rect x="1340" y="1417" width="441" height="63" rx="14"/><text x="1560" y="1463" font-size="42">employability skills</text></g>
<g id="n-universities" class="B"><rect x="415" y="1488" width="277" height="65" rx="14"/><text x="553" y="1535" font-size="41">universities</text></g>
<g id="n-undergraduate-students" class="G"><rect x="733" y="1533" width="469" height="60" rx="14"/><text x="967" y="1576" font-size="36">undergraduate students</text></g>
<g id="n-hiring" class="YG"><rect x="1487" y="1560" width="160" height="58" rx="14"/><text x="1567" y="1602" font-size="37">hiring</text></g>
<g id="n-entrepreneurship-education" class="G"><rect x="772" y="1589" width="697" height="73" rx="15"/><text x="1120" y="1642" font-size="48">entrepreneurship education</text></g>
<g id="n-discrimination" class="T"><rect x="1391" y="1682" width="306" height="60" rx="14"/><text x="1544" y="1725" font-size="37">discrimination</text></g>
<g id="n-entrepreneurial-intention" class="Y"><rect x="878" y="1752" width="543" height="63" rx="14"/><text x="1149" y="1798" font-size="41">entrepreneurial intention</text></g>
<g id="n-private-sector" class="P"><rect x="1216" y="1827" width="293" height="58" rx="14"/><text x="1362" y="1869" font-size="37">private sector</text></g>
</g>
<g id="legend">
<rect x="1730" y="1594" width="932" height="139" rx="26" fill="#fff" stroke="#cfcfcf" stroke-width="3"/>
<rect x="1759" y="1618" width="869" height="46" fill="url(#gLeg)" stroke="#555" stroke-width="2"/>
<path d="M1805 1641V1676M1961 1641V1676M2116 1641V1676M2272 1641V1676M2429 1641V1676M2584 1641V1676" stroke="#444" stroke-width="2.5"/>
<text class="lg" x="1805" y="1718">2016</text>
<text class="lg" x="1961" y="1718">2017</text>
<text class="lg" x="2116" y="1718">2018</text>
<text class="lg" x="2272" y="1718">2019</text>
<text class="lg" x="2429" y="1718">2020</text>
<text class="lg" x="2584" y="1718">2021</text>
</g>
</svg>
